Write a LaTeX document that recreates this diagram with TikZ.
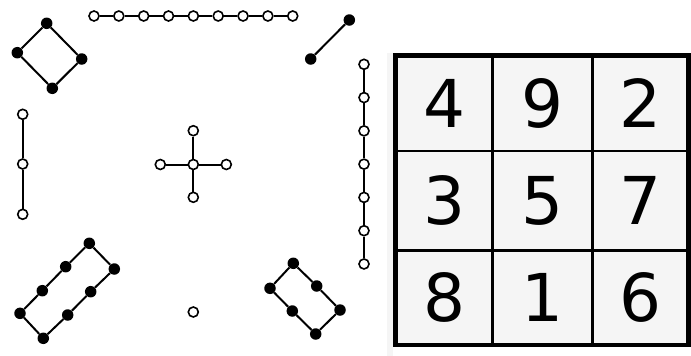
\documentclass[tikz,border=0pt]{standalone}
\usepackage{fontspec}
\setmainfont{DejaVu Sans}
\begin{document}
\begin{tikzpicture}[x=1pt,y=-1pt,
  onode/.style={circle,draw=black,fill=white,line width=1.6pt,inner sep=0pt,minimum size=10pt},
  fnode/.style={circle,fill=black,inner sep=0pt,minimum size=11.5pt},
  edge/.style={line width=2pt},
  digit/.style={font=\fontsize{66}{66}\selectfont,inner sep=0pt}]
\useasboundingbox (0,0) rectangle (691,356);
% diamond
\node[fnode] (d1) at (46.7,23.3) {};
\node[fnode] (d2) at (81.7,59) {};
\node[fnode] (d3) at (52.3,88.3) {};
\node[fnode] (d4) at (17.3,52.7) {};
\draw[edge] (d1)--(d2)--(d3)--(d4)--(d1);
% top chain
\foreach \i in {0,...,8} {\node[onode] (t\i) at ({94+24.84*\i},16) {};}
\foreach \i [evaluate=\i as \j using int(\i+1)] in {0,...,7} {\draw[edge] (t\i)--(t\j);}
% diagonal pair
\node[fnode] (p1) at (349.3,20) {};
\node[fnode] (p2) at (310.7,59) {};
\draw[edge] (p1)--(p2);
% right vertical chain
\foreach \i in {0,...,6} {\node[onode] (r\i) at (364,{64.3+33.28*\i}) {};}
\foreach \i [evaluate=\i as \j using int(\i+1)] in {0,...,5} {\draw[edge] (r\i)--(r\j);}
% left vertical chain
\node[onode] (l0) at (22.7,114.3) {};
\node[onode] (l1) at (22.7,164) {};
\node[onode] (l2) at (22.7,214.3) {};
\draw[edge] (l0)--(l1)--(l2);
% cross
\node[onode] (cc) at (193.3,164.5) {};
\node[onode] (cn) at (193.3,130.7) {};
\node[onode] (cs) at (193.3,197.3) {};
\node[onode] (cw) at (160.3,164.5) {};
\node[onode] (ce) at (226.3,164.5) {};
\draw[edge] (cc)--(cn) (cc)--(cs) (cc)--(cw) (cc)--(ce);
% bottom-left rectangle
\node[fnode] (a1) at (89.3,243.3) {};
\node[fnode] (a2) at (114.3,269) {};
\node[fnode] (a3) at (90.7,291.7) {};
\node[fnode] (a4) at (67.7,315) {};
\node[fnode] (a5) at (43.3,338.3) {};
\node[fnode] (a6) at (20,313.3) {};
\node[fnode] (a7) at (42.3,290.7) {};
\node[fnode] (a8) at (65.7,266.7) {};
\draw[edge] (a1)--(a2)--(a3)--(a4)--(a5)--(a6)--(a7)--(a8)--(a1);
% bottom-right rectangle
\node[fnode] (b1) at (293.3,263.3) {};
\node[fnode] (b2) at (316.7,286) {};
\node[fnode] (b3) at (340,310) {};
\node[fnode] (b4) at (315.7,334) {};
\node[fnode] (b5) at (292.3,311) {};
\node[fnode] (b6) at (270,288.3) {};
\draw[edge] (b1)--(b2)--(b3)--(b4)--(b5)--(b6)--(b1);
% isolated node
\node[onode] (iso) at (193.3,312) {};
% magic square
\fill[black!4] (387,53) rectangle (393,356);
\fill[black!4] (395.5,55.5) rectangle (688.5,345);
\draw[line width=2.6pt] (492.7,55.5)--(492.7,345) (592.7,55.5)--(592.7,345)
  (395.5,151)--(688.5,151) (395.5,250.7)--(688.5,250.7);
\draw[line width=4.8pt] (395.5,55.5) rectangle (688.5,345);
\node[digit] (m11) at (444,103.3) {4};
\node[digit] (m12) at (542.7,103.3) {9};
\node[digit] (m13) at (640.6,103.3) {2};
\node[digit] (m21) at (444,200.8) {3};
\node[digit] (m22) at (542.7,200.8) {5};
\node[digit] (m23) at (640.6,200.8) {7};
\node[digit] (m31) at (444,297.8) {8};
\node[digit] (m32) at (542.7,297.8) {1};
\node[digit] (m33) at (640.6,297.8) {6};
\end{tikzpicture}
\end{document}
